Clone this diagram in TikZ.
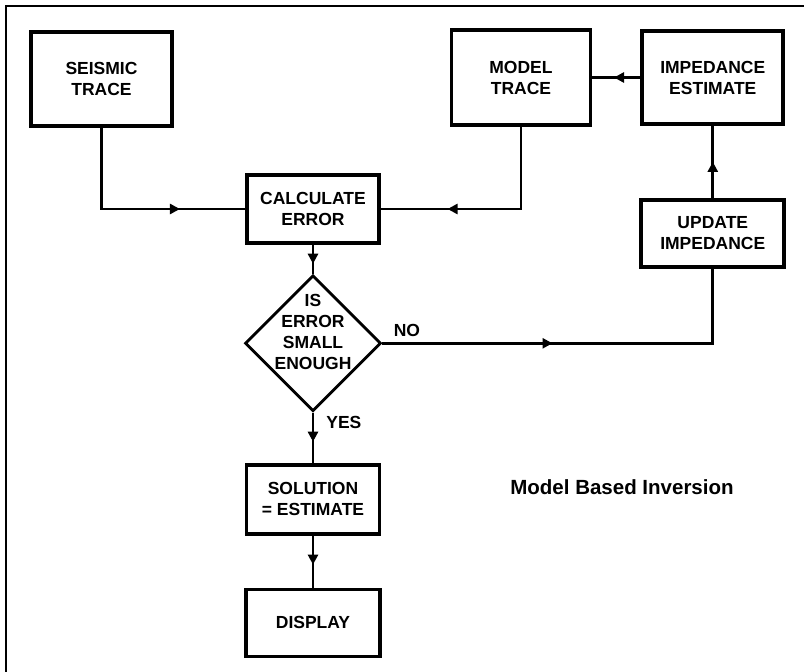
\documentclass[tikz,border=0pt]{standalone}
\usepackage{fontspec}
\setmainfont{Liberation Sans}
\usetikzlibrary{shapes.geometric, arrows.meta, positioning, decorations.markings}

\begin{document}
\begin{tikzpicture}[
    x=1pt, y=-1pt,
    box/.style={draw, rectangle, line width=3.8pt, align=center, font=\fontsize{17.5}{21}\selectfont\bfseries},
    decision/.style={draw, diamond, line width=2.8pt, minimum width=136pt, minimum height=136pt, inner sep=-20pt, font=\fontsize{17.5}{21}\selectfont\bfseries},
    lbl/.style={font=\fontsize{17.5}{21}\selectfont\bfseries, inner sep=2pt},
    conn/.style={line width=2.8pt},
    midarrow/.style={conn, postaction={decorate}, decoration={markings, mark=at position #1 with {\arrow{Triangle[length=10pt, width=10pt]}}}}
]
\useasboundingbox (0,0) rectangle (804,672);

% Frame
\draw [line width=2pt] (6,672) -- (6,6) -- (804,6);

% Nodes
\node [box, minimum width=141pt, minimum height=94pt] (seismic) at (101.5,79) {SEISMIC\\TRACE};
\node [box, minimum width=132pt, minimum height=68pt] (calc) at (313,209) {CALCULATE\\ERROR};
\node [box, minimum width=139pt, minimum height=95pt] (model) at (521,77.5) {MODEL\\TRACE};
\node [box, right=48pt of model, minimum width=141pt, minimum height=93pt] (impedance) {IMPEDANCE\\ESTIMATE};
\node [box, below=72pt of impedance, minimum width=143pt, minimum height=67pt] (update) {UPDATE\\IMPEDANCE};

% text sits a bit above the centre of the diamond
\node [decision, below=29pt of calc] (error) {\raisebox{10pt}[\height][\depth]{\begin{tabular}{@{}c@{}}IS\\ERROR\\SMALL\\ENOUGH\end{tabular}}};
\node [box, below=50pt of error, minimum width=133pt, minimum height=69pt] (solution) {SOLUTION\\= ESTIMATE};
\node [box, below=52pt of solution, minimum width=134pt, minimum height=67pt] (display) {DISPLAY};

\node [font=\fontsize{20.5}{24}\selectfont\bfseries] (title) at (622,487) {Model Based Inversion};

% Arrows
\draw [midarrow=0.71] (seismic) |- (calc);
\draw [midarrow=0.70] (model) |- (calc);
\draw [midarrow=0.55] (impedance) -- (model);
\draw [midarrow=0.5] (update) -- (impedance);
\draw [midarrow=0.65] (calc) -- (error);
\draw [midarrow=0.42] (error) -| node[lbl, at start, anchor=south west, xshift=8pt, yshift=3pt] (no) {NO} (update);
\draw [midarrow=0.58] (error) -- node[lbl, at start, anchor=north west, xshift=10pt] (yes) {YES} (solution);
\draw [midarrow=0.56] (solution) -- (display);

\end{tikzpicture}
\end{document}
